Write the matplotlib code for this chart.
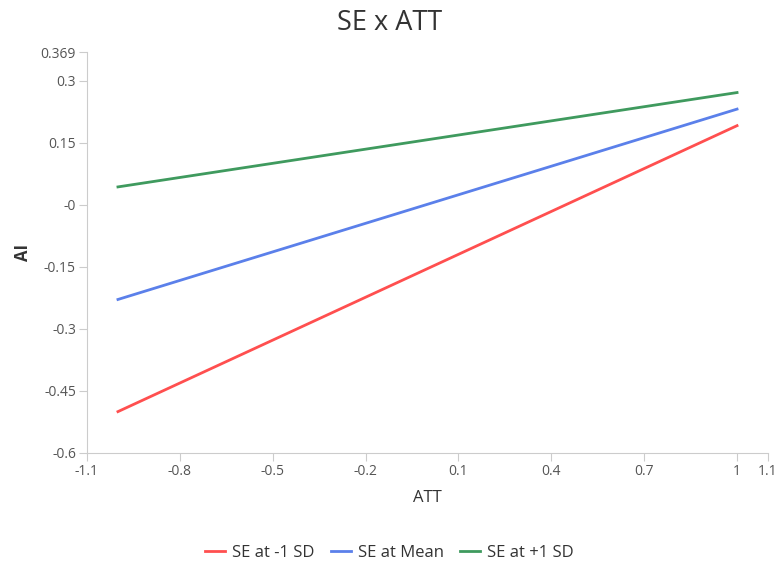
import matplotlib
matplotlib.use('Agg')
import matplotlib.pyplot as plt

plt.rcParams['font.family'] = ['Open Sans', 'DejaVu Sans']

# data: simple slopes, ATT from -1 to 1
att = [-1, 1]
low_sd = [-0.500, 0.191]
mean_se = [-0.229, 0.231]
high_sd = [0.043, 0.271]

x_ticks = [-1.1, -0.8, -0.5, -0.2, 0.1, 0.4, 0.7, 1, 1.1]
x_labels = ['-1.1', '-0.8', '-0.5', '-0.2', '0.1', '0.4', '0.7', '1', '1.1']
y_ticks = [-0.6, -0.45, -0.3, -0.15, 0, 0.15, 0.3, 0.369]
y_labels = ['-0.6', '-0.45', '-0.3', '-0.15', '-0', '0.15', '0.3', '0.369']

fig = plt.figure(figsize=(7.79, 5.64), dpi=100)
ax = fig.add_axes([87 / 779, 1 - 453 / 564, (768 - 87) / 779, (453 - 52) / 564])

ax.plot(att, low_sd, color='#ff4f4f', lw=2, label='SE at -1 SD')
ax.plot(att, mean_se, color='#5b80ea', lw=2, label='SE at Mean')
ax.plot(att, high_sd, color='#3f9a5e', lw=2, label='SE at +1 SD')

ax.set_xlim(-1.1, 1.1)
ax.set_ylim(-0.6, 0.369)
ax.set_xticks(x_ticks)
ax.set_xticklabels(x_labels)
ax.set_yticks(y_ticks)
ax.set_yticklabels(y_labels)

for s in ['top', 'right']:
    ax.spines[s].set_visible(False)
for s in ['left', 'bottom']:
    ax.spines[s].set_color('#cccccc')
ax.tick_params(colors='#cccccc', labelcolor='#555555', labelsize=10, length=6, pad=2)

ax.set_xlabel('ATT', fontsize=12, color='#333333', labelpad=8)
ax.set_ylabel('AI', fontsize=12, color='#333333', fontweight='bold', labelpad=6)
fig.text(0.5, 1 - 23 / 564, 'SE x ATT', ha='center', va='center', fontsize=19.5, color='#333333')

fig.legend(loc='center', bbox_to_anchor=(0.5, 1 - 553 / 564), ncol=3, frameon=False,
           fontsize=12, handlelength=1.2, handletextpad=0.4, columnspacing=1.0,
           labelcolor='#333333')

fig.savefig('out.png', dpi=100)
